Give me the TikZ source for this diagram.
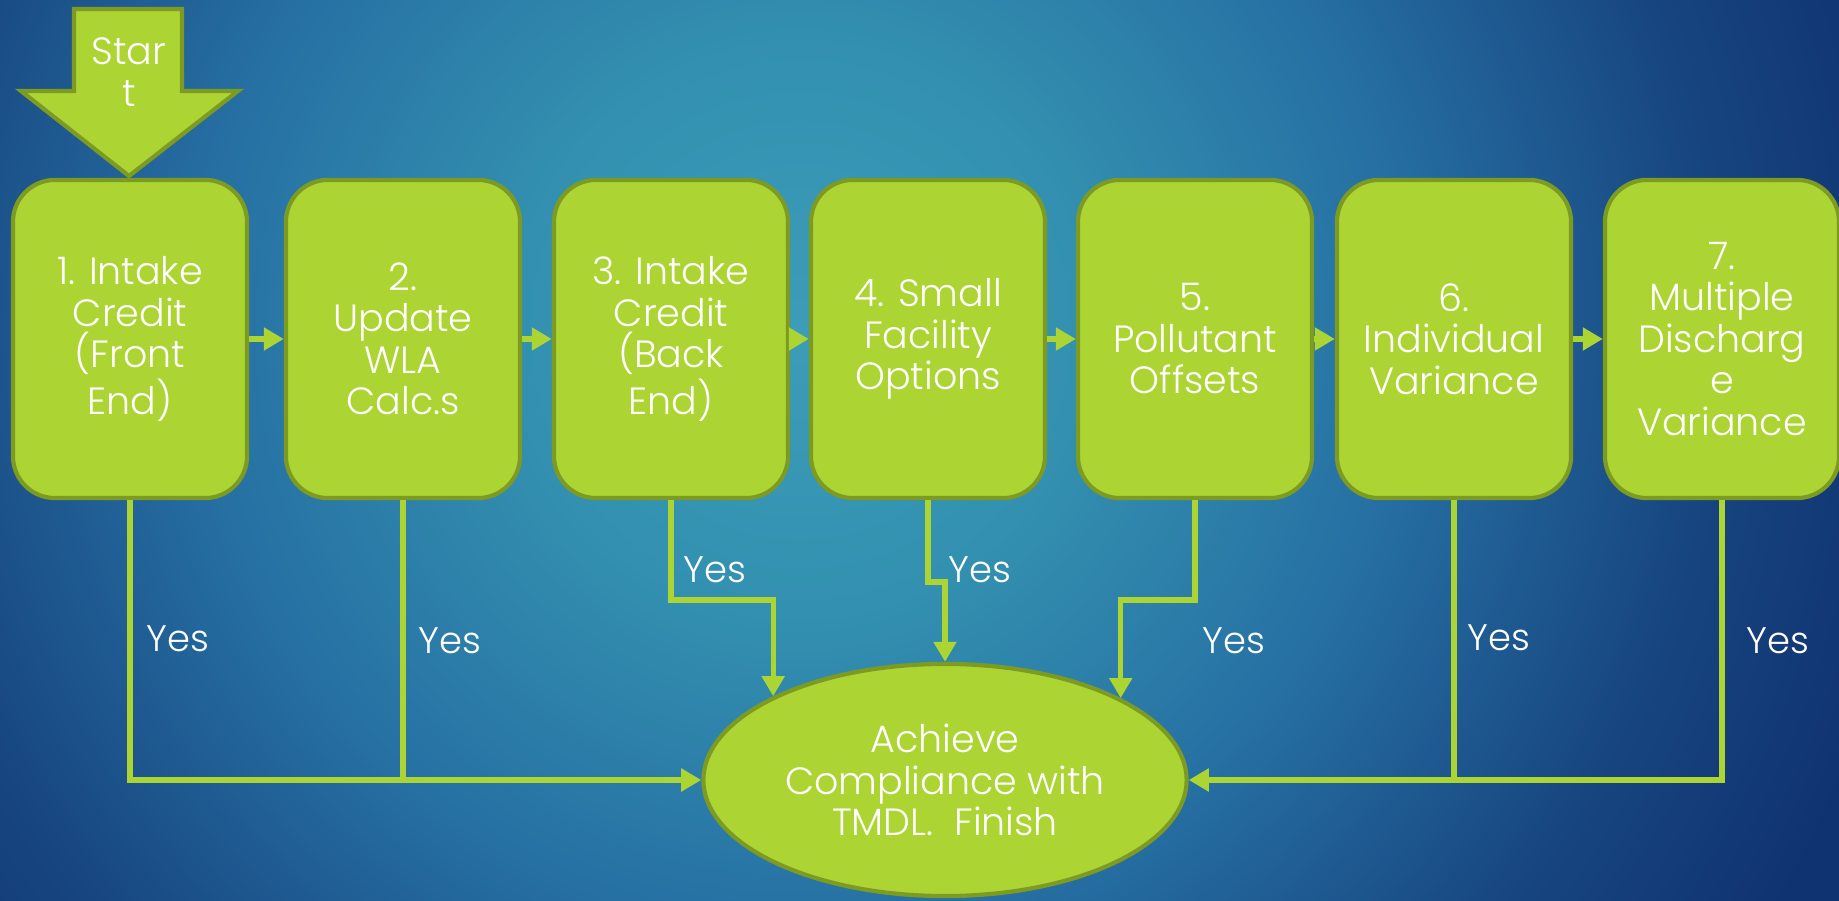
\documentclass[tikz,border=0pt]{standalone}
\usepackage{fontspec}
\IfFontExistsTF{Poppins Light}{\setmainfont{Poppins Light}}{%
  \IfFontExistsTF{Poppins-Light.ttf}{\setmainfont{Poppins-Light.ttf}}{%
    \IfFontExistsTF{Lato Light}{\setmainfont{Lato Light}}{\setmainfont{Poppins}}}}
\usetikzlibrary{arrows.meta,shapes.geometric}

% palette
\definecolor{lime}{HTML}{ACD433}
\definecolor{olive}{HTML}{7D9B22}
\definecolor{glowA}{HTML}{3B9DB9}
\definecolor{glowB}{HTML}{3390B0}
\definecolor{glowC}{HTML}{2670A3}
\definecolor{glowD}{HTML}{17457F}
\definecolor{glowE}{HTML}{0F3270}

% soft teal glow fading to navy
\pgfdeclareradialshading{bgglow}{\pgfpoint{0bp}{0bp}}{%
  color(0bp)=(glowA); color(5.5bp)=(glowB); color(11.5bp)=(glowC);
  color(17.5bp)=(glowD); color(22bp)=(glowE); color(50bp)=(glowE)}

\newcommand\flowboxfont{\fontsize{10.8}{11.8}\selectfont}
\newcommand\flowyesfont{\fontsize{10.5}{12}\selectfont}

\begin{document}
\begin{tikzpicture}[x=0.01cm,y=-0.01cm,
  stepbox/.style={draw=olive, line width=1.2pt, fill=lime, rounded corners=0.42cm,
    minimum width=2.34cm, minimum height=3.18cm, inner sep=0pt,
    text=white, align=center, font=\flowboxfont},
  goal/.style={ellipse, draw=olive, line width=1.2pt, fill=lime,
    minimum width=4.83cm, minimum height=2.32cm, inner sep=0pt,
    text=white, align=center, font=\flowboxfont},
  flow/.style={draw=lime, line width=1.5pt, -{Triangle[length=0.2cm,width=0.22cm]}},
  link/.style={draw=lime, line width=1.5pt},
  yeslabel/.style={text=white, font=\flowyesfont, inner sep=0pt}
]
% background
\useasboundingbox (0,0) rectangle (1839,901);
\begin{scope}
  \clip (0,0) rectangle (1839,901);
  \fill[glowE] (0,0) rectangle (1839,901);
  \shade[shading=bgglow] (800,330) circle (13cm);
\end{scope}

% start arrow
\draw[olive, line width=1.2pt, fill=lime, line join=miter]
  (74,9) -- (182,9) -- (182,91) -- (238,91) -- (129,176) -- (21,91) -- (74,91) -- cycle;
\node[text=white, font=\flowboxfont, align=center, inner sep=0pt] (start) at (129,72) {Star\\t};

% process steps
\node[stepbox] (b1) at (130,339)  {1. Intake\\Credit\\(Front\\End)};
\node[stepbox] (b2) at (403,339)  {2.\\Update\\WLA\\Calc.s};
\node[stepbox] (b3) at (671,339)  {3. Intake\\Credit\\(Back\\End)};
\node[stepbox] (b4) at (928,339)  {4. Small\\Facility\\Options};
\node[stepbox] (b5) at (1195,339) {5.\\Pollutant\\Offsets};
\node[stepbox] (b6) at (1454,339) {6.\\Individual\\Variance};
\node[stepbox] (b7) at (1722,339) {7.\\Multiple\\Discharg\\e\\Variance};

% goal
\node[goal] (ell) at (945,780) {Achieve\\Compliance with\\TMDL.\ \ Finish};

% step-to-step arrows
\draw[flow] (b1) -- (b2);
\draw[flow] (b2) -- (b3);
\draw[flow] (b3) -- (b4);
\draw[flow] (b4) -- (b5);
\draw[flow] (b5) -- (b6);
\draw[flow] (b6) -- (b7);

% bend points for the middle connectors
\coordinate (s3) at (671,600);
\coordinate (s4) at (928,582);
\coordinate (s5) at (1195,600);

% "Yes" connectors into the goal
\draw[flow] (b1.south) |- (ell.west);
\draw[link] (b2.south) -- (b2.south |- ell.west);
\draw[flow] (b3.south) -- (s3) -| (ell.154.7);
\draw[flow] (b4.south) -- (s4) -| (ell.north);
\draw[flow] (b5.south) -- (s5) -| (ell.25.3);
\draw[link] (b6.south) -- (b6.south |- ell.east);
\draw[flow] (b7.south) |- (ell.east);

% labels
\node[yeslabel] (y1) at (178,639)  {Yes};
\node[yeslabel] (y2) at (450,641)  {Yes};
\node[yeslabel] (y3) at (715,570)  {Yes};
\node[yeslabel] (y4) at (980,570)  {Yes};
\node[yeslabel] (y5) at (1234,641) {Yes};
\node[yeslabel] (y6) at (1499,638) {Yes};
\node[yeslabel] (y7) at (1778,641) {Yes};
\end{tikzpicture}
\end{document}
